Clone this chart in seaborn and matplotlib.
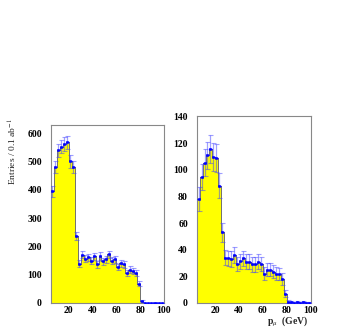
import pandas as pd
import matplotlib
matplotlib.use("Agg")
import matplotlib.pyplot as plt
from matplotlib.ticker import AutoMinorLocator
import seaborn as sns

# --- data --- #
bin_edges = [5 + 2.5 * i for i in range(39)]   # 38 bins of 2.5 GeV
bin_centers = [e + 1.25 for e in bin_edges[:-1]]

left_counts = [394, 480, 539, 551, 561, 567, 500, 480, 236, 139,
               171, 156, 162, 150, 165, 136, 166, 148, 155, 172,
               149, 155, 127, 140, 136, 107, 118, 113, 106, 68,
               7, 0, 0, 0, 0, 0, 0, 0]
left_errors = [20, 22, 23, 23, 24, 24, 22, 22, 15, 12,
               13, 12.5, 12.7, 12.2, 12.8, 11.7, 12.9, 12.2, 12.4, 13.1,
               12.2, 12.4, 11.3, 11.8, 11.7, 10.3, 10.9, 10.6, 10.3, 8.2,
               2.6, 0, 0, 0, 0, 0, 0, 0]

right_counts = [78, 94.5, 105.5, 110.8, 115.5, 110, 108.8, 88, 53, 34,
                33.5, 33, 36, 29.5, 31.5, 33.5, 31, 31, 29, 29,
                31, 29.5, 22, 25, 25, 23.5, 22, 21.5, 18, 7,
                1, 0.5, 0.3, 0.5, 0.3, 0.5, 0.3, 0.3]
right_errors = [8.8, 9.7, 10.3, 10.5, 10.7, 10.5, 10.4, 9.4, 7.3, 5.8,
                5.8, 5.7, 6, 5.4, 5.6, 5.8, 5.6, 5.6, 5.4, 5.4,
                5.6, 5.4, 4.7, 5, 5, 4.8, 4.7, 4.6, 4.2, 2.6,
                1, 0.7, 0.5, 0.7, 0.5, 0.7, 0.5, 0.5]

left_yticks = [0, 100, 200, 300, 400, 500, 600]
right_yticks = [0, 20, 40, 60, 80, 100, 120, 140]
xticks = [20, 40, 60, 80, 100]

# --- style --- #
sns.set_style("white")
plt.rcParams['font.family'] = ['Liberation Serif', 'DejaVu Serif']
plt.rcParams['mathtext.fontset'] = 'stix'

fig = plt.figure(figsize=(3.54, 3.27), dpi=100)
ax_l = fig.add_axes([0.144, 0.0734, 0.319, 0.544])
ax_r = fig.add_axes([0.5565, 0.0734, 0.322, 0.572])


# [draw_panel]: yellow histogram + blue data points with errors #
def draw_panel(ax, counts, errors, ylim, yticks, yminor):
	df = pd.DataFrame({"p": bin_centers, "n": [float(c) for c in counts]})
	sns.histplot(data=df, x="p", weights="n", bins=bin_edges, element="step",
	             fill=True, color="#ffff00", alpha=1, edgecolor="#707070",
	             linewidth=0.7, ax=ax)
	# vertical error bars (translucent blue) #
	ax.errorbar(bin_centers, counts, yerr=errors, fmt="none", ecolor="#4040ff",
	            alpha=0.5, elinewidth=0.9, capsize=1.8, capthick=0.8, zorder=3)
	# bin-width bars and markers #
	ax.errorbar(bin_centers, counts, xerr=1.25, fmt="s", color="#0000ff",
	            markersize=1.8, markeredgewidth=0.4, elinewidth=1.0,
	            capsize=0, zorder=4)

	ax.set_xlim(5, 100)
	ax.set_ylim(*ylim)
	ax.set_xticks(xticks)
	ax.set_yticks(yticks)
	ax.xaxis.set_minor_locator(AutoMinorLocator(5))
	ax.yaxis.set_minor_locator(AutoMinorLocator(yminor))
	ax.tick_params(which="both", direction="in", colors="#555555",
	               labelcolor="black", labelsize=7, width=0.6)
	ax.tick_params(axis="x", which="major", length=3.5, pad=2)
	ax.tick_params(axis="x", which="minor", length=2)
	ax.tick_params(axis="y", which="major", length=3.5, pad=6.5)
	ax.tick_params(axis="y", which="minor", length=2)
	for lab in ax.get_xticklabels() + ax.get_yticklabels():
		lab.set_fontweight("bold")
	for sp in ax.spines.values():
		sp.set_color("#888888")
		sp.set_linewidth(0.8)
	ax.set_xlabel("")
	ax.set_ylabel("")


draw_panel(ax_l, left_counts, left_errors, (0, 628), left_yticks, 5)
draw_panel(ax_r, right_counts, right_errors, (0, 140.5), right_yticks, 5)

ax_l.set_ylabel(r"Entries / 0.1 ab$^{-1}$", loc="top", fontsize=6.8)
ax_l.yaxis.set_label_coords(-0.28, 1.04)
ax_r.set_xlabel(r"p$_{\mu}$  (GeV)", loc="right", fontsize=7, fontweight="bold")
ax_r.xaxis.set_label_coords(0.975, -0.057)

fig.savefig("out.png", dpi=100)
